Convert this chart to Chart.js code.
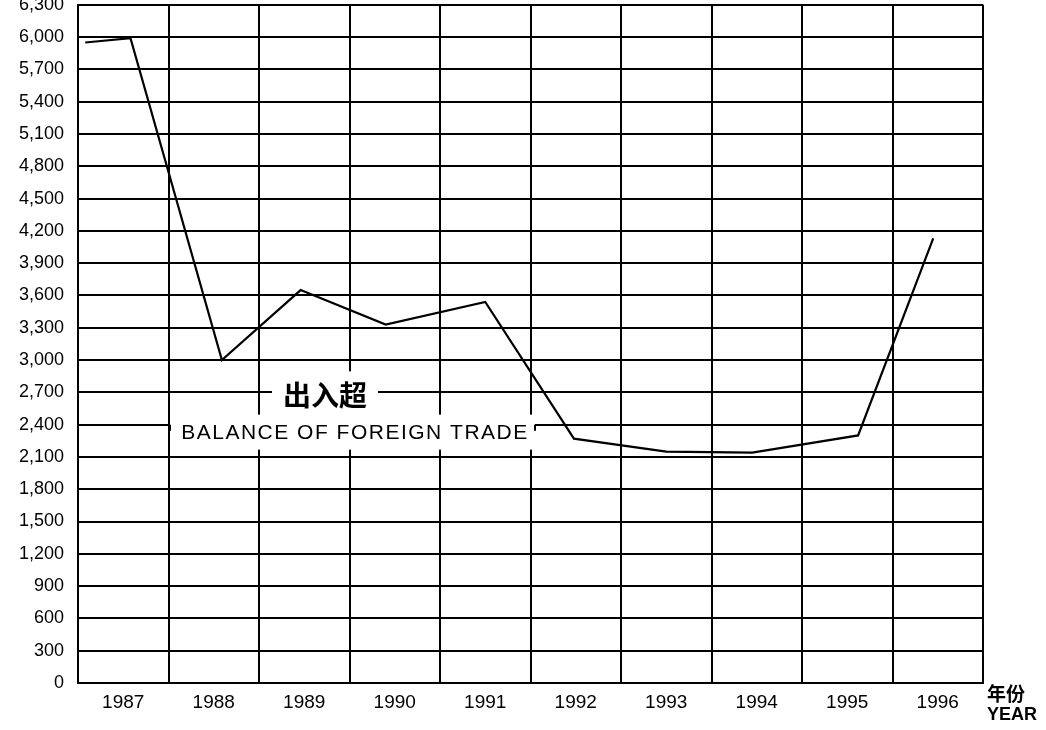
<!DOCTYPE html>
<html>
<head>
<meta charset="utf-8">
<script src="https://cdn.jsdelivr.net/npm/chart.js@4/dist/chart.umd.min.js"></script>
<style>
  html, body { margin: 0; padding: 0; background: #fff; overflow: hidden; }
  #wrap { position: absolute; left: 0; top: -20px; width: 1046px; height: 750px; }
</style>
</head>
<body>
<div id="wrap"><canvas id="myChart"></canvas></div>
<script>
// categories on the axis
const years = ['1987', '1988', '1989', '1990', '1991', '1992', '1993', '1994', '1995', '1996'];
// where each point of the line sits (in years) and its value
const pointYears = [1986.58, 1987.08, 1988.09, 1988.96, 1989.9, 1991.0, 1991.98, 1993.0, 1993.95, 1995.12, 1995.95];
const balance = [5950, 5990, 3000, 3650, 3330, 3540, 2270, 2150, 2140, 2300, 4130];
// y axis ticks
const yMin = 0;
const yMax = 6300;
const yStep = 300;

const labelFont = '"Liberation Sans", Arial, sans-serif';
const cjkFont = '"Noto Sans CJK SC", "Noto Sans CJK TC", sans-serif';

const notes = {
  id: 'notes',
  afterDatasetsDraw(chart) {
    const ctx = chart.ctx;
    const a = chart.chartArea;
    const y = chart.scales.y;
    ctx.save();
    // boxes over the grid
    ctx.fillStyle = '#fff';
    const y27 = y.getPixelForValue(2700);
    const y24 = y.getPixelForValue(2400);
    ctx.fillRect(272, y27 - 21, 106, 50);
    ctx.fillRect(a.left + 92, y24 - 10, 365, 35);

    ctx.fillStyle = '#000';
    ctx.textAlign = 'center';
    ctx.textBaseline = 'middle';
    ctx.font = 'bold 28px ' + cjkFont;
    ctx.fillText('出入超', 325, y27 + 3);

    ctx.font = '21px ' + labelFont;
    ctx.letterSpacing = '1.5px';
    ctx.fillText('BALANCE OF FOREIGN TRADE', 355, y24 + 9);
    ctx.letterSpacing = '0px';

    // little brackets at box ends
    ctx.strokeStyle = '#000';
    ctx.lineWidth = 2;
    ctx.beginPath();
    ctx.moveTo(a.left + 92, y24);
    ctx.lineTo(a.left + 92, y24 + 6);
    ctx.moveTo(a.left + 457, y24);
    ctx.lineTo(a.left + 457, y24 + 6);
    ctx.stroke();

    // axis title at the right
    ctx.textAlign = 'left';
    ctx.font = 'bold 19px ' + cjkFont;
    ctx.fillText('年份', a.right + 4, a.bottom + 11);
    ctx.font = 'bold 18px ' + labelFont;
    ctx.fillText('YEAR', a.right + 4, a.bottom + 32);
    ctx.restore();
  }
};

new Chart(document.getElementById('myChart'), {
  type: 'line',
  data: {
    labels: years,
    datasets: [{
      label: 'Balance of foreign trade',
      data: pointYears.map((yr, i) => ({ x: yr, y: balance[i] })),
      xAxisID: 'x2',
      borderColor: '#000',
      borderWidth: 2.2,
      pointRadius: 0,
      tension: 0,
      fill: false
    }]
  },
  options: {
    responsive: true,
    maintainAspectRatio: false,
    animation: false,
    layout: { padding: { top: 6, right: 63, left: 0, bottom: 0 } },
    plugins: {
      legend: { display: false },
      tooltip: { enabled: false }
    },
    scales: {
      x: {
        type: 'category',
        offset: true,
        grid: { offset: true, color: '#000', lineWidth: 2, drawTicks: false },
        border: { color: '#000', width: 2 },
        ticks: { color: '#000', font: { family: labelFont, size: 19 }, padding: 8, maxRotation: 0 },
        afterFit(s) { s.height = 47; }
      },
      x2: {
        type: 'linear',
        display: false,
        min: 1986.5,
        max: 1996.5
      },
      y: {
        min: yMin,
        max: yMax,
        grid: { color: '#000', lineWidth: 2, drawTicks: false },
        border: { color: '#000', width: 2 },
        ticks: {
          stepSize: yStep,
          color: '#000',
          padding: 14,
          font: { family: labelFont, size: 18 },
          callback: v => v.toLocaleString('en-US')
        },
        afterFit(s) { s.width = 78; }
      }
    }
  },
  plugins: [notes]
});
</script>
</body>
</html>
